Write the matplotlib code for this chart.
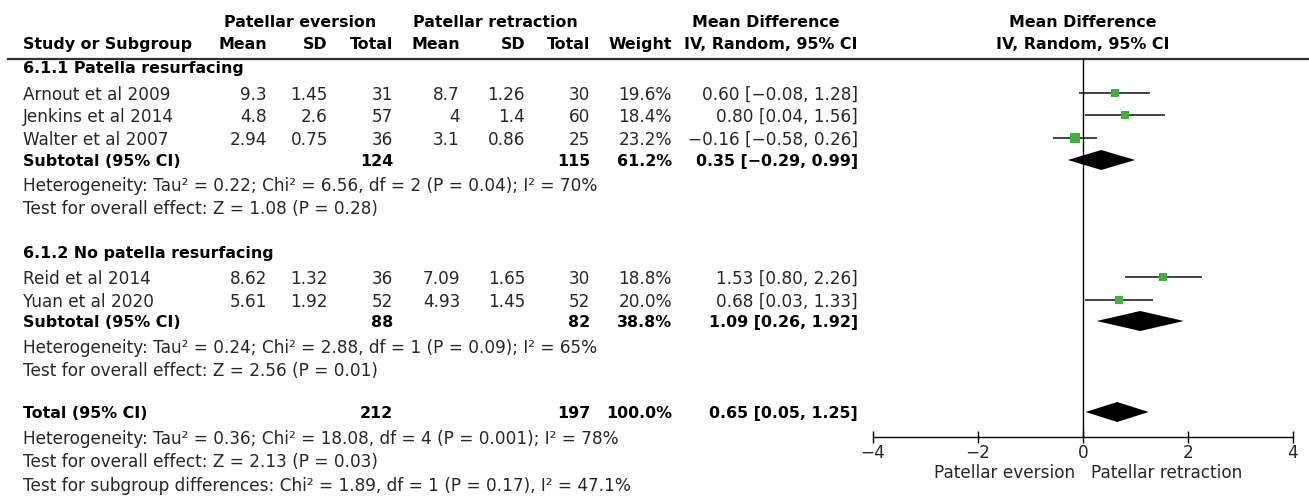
"""Forest plot: patellar eversion vs patellar retraction (RevMan style)."""

import matplotlib.pyplot as plt

# ---- data ----
studies = ["Arnout et al 2009", "Jenkins et al 2014", "Walter et al 2007",
           "Reid et al 2014", "Yuan et al 2020"]
study_group = [0, 0, 0, 1, 1]
mean_ev = [9.3, 4.8, 2.94, 8.62, 5.61]
sd_ev = [1.45, 2.6, 0.75, 1.32, 1.92]
n_ev = [31, 57, 36, 36, 52]
mean_re = [8.7, 4, 3.1, 7.09, 4.93]
sd_re = [1.26, 1.4, 0.86, 1.65, 1.45]
n_re = [30, 60, 25, 30, 52]
weight = [19.6, 18.4, 23.2, 18.8, 20.0]
md = [0.60, 0.80, -0.16, 1.53, 0.68]
ci_lo = [-0.08, 0.04, -0.58, 0.80, 0.03]
ci_hi = [1.28, 1.56, 0.26, 2.26, 1.33]

group_names = ["6.1.1 Patella resurfacing", "6.1.2 No patella resurfacing"]
sub_n_ev = [124, 88]
sub_n_re = [115, 82]
sub_weight = [61.2, 38.8]
sub_md = [0.35, 1.09]
sub_lo = [-0.29, 0.26]
sub_hi = [0.99, 1.92]
sub_het = [
    "Heterogeneity: Tau² = 0.22; Chi² = 6.56, df = 2 (P = 0.04); I² = 70%",
    "Heterogeneity: Tau² = 0.24; Chi² = 2.88, df = 1 (P = 0.09); I² = 65%",
]
sub_z = [
    "Test for overall effect: Z = 1.08 (P = 0.28)",
    "Test for overall effect: Z = 2.56 (P = 0.01)",
]

tot_n_ev = 212
tot_n_re = 197
tot_weight = 100.0
tot_md, tot_lo, tot_hi = 0.65, 0.05, 1.25
tot_notes = [
    "Heterogeneity: Tau² = 0.36; Chi² = 18.08, df = 4 (P = 0.001); I² = 78%",
    "Test for overall effect: Z = 2.13 (P = 0.03)",
    "Test for subgroup differences: Chi² = 1.89, df = 1 (P = 0.17), I² = 47.1%",
]

x_ticks = [-4, -2, 0, 2, 4]
favours = ["Patellar eversion", "Patellar retraction"]

# ---- layout (pixel rows / columns of the 1309x499 canvas) ----
W, H = 1309, 499
FS = 12.2      # regular text
FSB = 11.4     # bold text (DejaVu bold runs wide)
TXT = "#262626"
GREEN = "#3db33d"

y_head1, y_head2, y_rule = 21, 43, 59
y_group = [67, 252]
y_study = [93, 115, 138, 277, 300]
y_sub = [160, 321]
y_het = [184, 346]
y_z = [207, 369]
y_tot = 412
y_tot_notes = [437, 460, 484]
y_axis = 437

x_name = 23
col_right = [267, 328, 393, 460, 525, 590, 672, 858]


def fmt_ci(m, lo, hi):
    s = f"{m:.2f} [{lo:.2f}, {hi:.2f}]"
    return s.replace("-", "\u2212")


fig = plt.figure(figsize=(W / 100, H / 100), dpi=100)
tab = fig.add_axes([0, 0, 1, 1])
tab.set_xlim(0, W)
tab.set_ylim(H, 0)
tab.axis("off")


def put(x, y, s, ha="left", bold=False):
    tab.text(x, y, s, ha=ha, va="center_baseline",
             fontsize=FSB if bold else FS,
             fontweight="bold" if bold else "normal",
             color="black" if bold else TXT)


# headers
put((228 + 373) / 2, y_head1, "Patellar eversion", ha="center", bold=True)
put((417 + 573) / 2, y_head1, "Patellar retraction", ha="center", bold=True)
put(766, y_head1, "Mean Difference", ha="center", bold=True)
put(x_name, y_head2, "Study or Subgroup", bold=True)
for x, s in zip(col_right, ["Mean", "SD", "Total", "Mean", "SD", "Total",
                            "Weight", "IV, Random, 95% CI"]):
    put(x, y_head2, s, ha="right", bold=True)
tab.axhline(y_rule, xmin=8 / W, xmax=1, color="#333333", lw=1.6)

# study rows
for i, name in enumerate(studies):
    y = y_study[i]
    put(x_name, y, name)
    vals = [f"{mean_ev[i]:g}", f"{sd_ev[i]:g}", f"{n_ev[i]}",
            f"{mean_re[i]:g}", f"{sd_re[i]:g}", f"{n_re[i]}",
            f"{weight[i]:.1f}%", fmt_ci(md[i], ci_lo[i], ci_hi[i])]
    for x, s in zip(col_right, vals):
        put(x, y, s, ha="right")

# subgroup blocks
for g, gname in enumerate(group_names):
    put(x_name, y_group[g], gname, bold=True)
    put(x_name, y_sub[g], "Subtotal (95% CI)", bold=True)
    put(col_right[2], y_sub[g], f"{sub_n_ev[g]}", ha="right", bold=True)
    put(col_right[5], y_sub[g], f"{sub_n_re[g]}", ha="right", bold=True)
    put(col_right[6], y_sub[g], f"{sub_weight[g]:.1f}%", ha="right", bold=True)
    put(col_right[7], y_sub[g], fmt_ci(sub_md[g], sub_lo[g], sub_hi[g]),
        ha="right", bold=True)
    put(x_name, y_het[g], sub_het[g])
    put(x_name, y_z[g], sub_z[g])

# overall
put(x_name, y_tot, "Total (95% CI)", bold=True)
put(col_right[2], y_tot, f"{tot_n_ev}", ha="right", bold=True)
put(col_right[5], y_tot, f"{tot_n_re}", ha="right", bold=True)
put(col_right[6], y_tot, f"{tot_weight:.1f}%", ha="right", bold=True)
put(col_right[7], y_tot, fmt_ci(tot_md, tot_lo, tot_hi), ha="right", bold=True)
for y, s in zip(y_tot_notes, tot_notes):
    put(x_name, y, s)

# ---- forest panel ----
x0, x1 = 873, 1293
ax = fig.add_axes([x0 / W, 1 - y_axis / H, (x1 - x0) / W, (y_axis - y_rule) / H])
ax.set_xlim(x_ticks[0], x_ticks[-1])
ax.set_ylim(y_axis, y_rule)
ax.patch.set_visible(False)
for side in ("top", "right", "left"):
    ax.spines[side].set_visible(False)
ax.spines["bottom"].set_linewidth(1.0)
ax.set_yticks([])
ax.set_xticks(x_ticks)
ax.tick_params(axis="x", direction="inout", length=8, width=1.0,
               labelsize=FS, labelcolor=TXT, pad=1)
ax.axvline(0, color="black", lw=1.0, zorder=1)

for i in range(len(studies)):
    y = y_study[i]
    ax.plot([ci_lo[i], ci_hi[i]], [y, y], color="#222222", lw=1.2, zorder=2,
            solid_capstyle="butt")
    ax.plot(md[i], y, marker="s", ms=1.35 * weight[i] ** 0.5, color=GREEN,
            mec=GREEN, mew=0, zorder=3, ls="none")

half = 10
for m, lo, hi, y in zip(sub_md + [tot_md], sub_lo + [tot_lo],
                        sub_hi + [tot_hi], y_sub + [y_tot]):
    ax.fill([lo, m, hi, m], [y, y - half, y, y + half], color="black", lw=0,
            zorder=3)

ax.text(0, y_head1, "Mean Difference", ha="center", va="center_baseline",
        fontsize=FSB, fontweight="bold", clip_on=False)
ax.text(0, y_head2, "IV, Random, 95% CI", ha="center", va="center_baseline",
        fontsize=FSB, fontweight="bold", clip_on=False)
ax.text(-0.15, 471, favours[0], ha="right", va="center_baseline", fontsize=FS,
        color=TXT, clip_on=False)
ax.text(0.15, 471, favours[1], ha="left", va="center_baseline", fontsize=FS,
        color=TXT, clip_on=False)

fig.savefig("out.png", dpi=100)
